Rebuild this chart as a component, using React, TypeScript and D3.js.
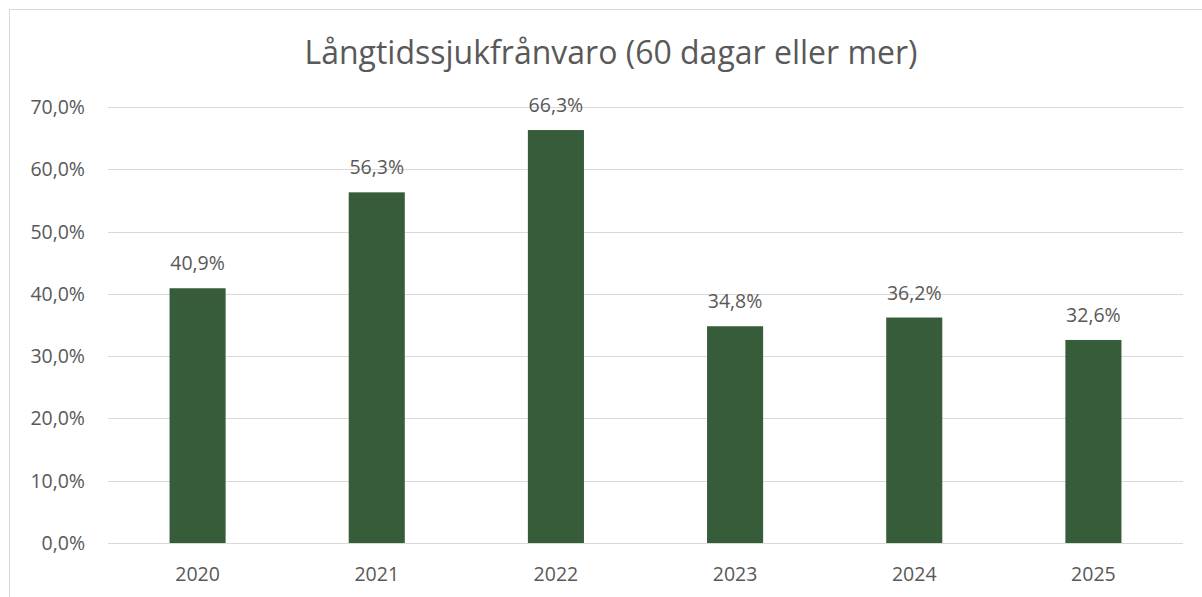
import React from "react";
import * as d3 from "d3";

const categories = ["2020", "2021", "2022", "2023", "2024", "2025"];
const values = [40.9, 56.3, 66.3, 34.8, 36.2, 32.6];
const yTicks = [0, 10, 20, 30, 40, 50, 60, 70];
const title = "Långtidssjukfrånvaro (60 dagar eller mer)";

const W = 1202;
const H = 597;
const left = 108;
const right = 1183;
const top = 107;
const bottom = 543;
const font = "'Open Sans', 'Liberation Sans', sans-serif";
const textColor = "#595959";

const fmt = (v: number) => v.toFixed(1).replace(".", ",") + "%";

export default function App() {
  const x = d3.scaleBand<string>().domain(categories).range([left, right]).paddingInner(0.687).paddingOuter(0.3435);
  const y = d3.scaleLinear().domain([0, 70]).range([bottom, top]);
  return (
    <svg width={W} height={H} style={{ position: "absolute", left: 0, top: 0, background: "#fff" }}>
      <rect x={9.5} y={9.5} width={W} height={H} fill="#fff" stroke="#D9D9D9" strokeWidth={1} />
      <text x={611} y={64} textAnchor="middle" fontFamily={font} fontSize={32} fill={textColor}>
        {title}
      </text>
      {yTicks.map((t) => (
        <g key={t}>
          <line x1={left} x2={right} y1={Math.round(y(t)) + 0.5} y2={Math.round(y(t)) + 0.5} stroke="#D9D9D9" strokeWidth={1} />
          <text x={85} y={y(t)} dy="0.36em" textAnchor="end" fontFamily={font} fontSize={19.5} fill={textColor}>
            {fmt(t)}
          </text>
        </g>
      ))}
      {categories.map((c, i) => (
        <g key={c}>
          <rect x={x(c)} y={y(values[i])} width={x.bandwidth()} height={y(0) - y(values[i])} fill="#375C3A" />
          <text x={(x(c) as number) + x.bandwidth() / 2} y={y(values[i]) - 18} textAnchor="middle" fontFamily={font} fontSize={19.5} fill={textColor}>
            {fmt(values[i])}
          </text>
          <text x={(x(c) as number) + x.bandwidth() / 2} y={581} textAnchor="middle" fontFamily={font} fontSize={19.5} fill={textColor}>
            {c}
          </text>
        </g>
      ))}
    </svg>
  );
}
